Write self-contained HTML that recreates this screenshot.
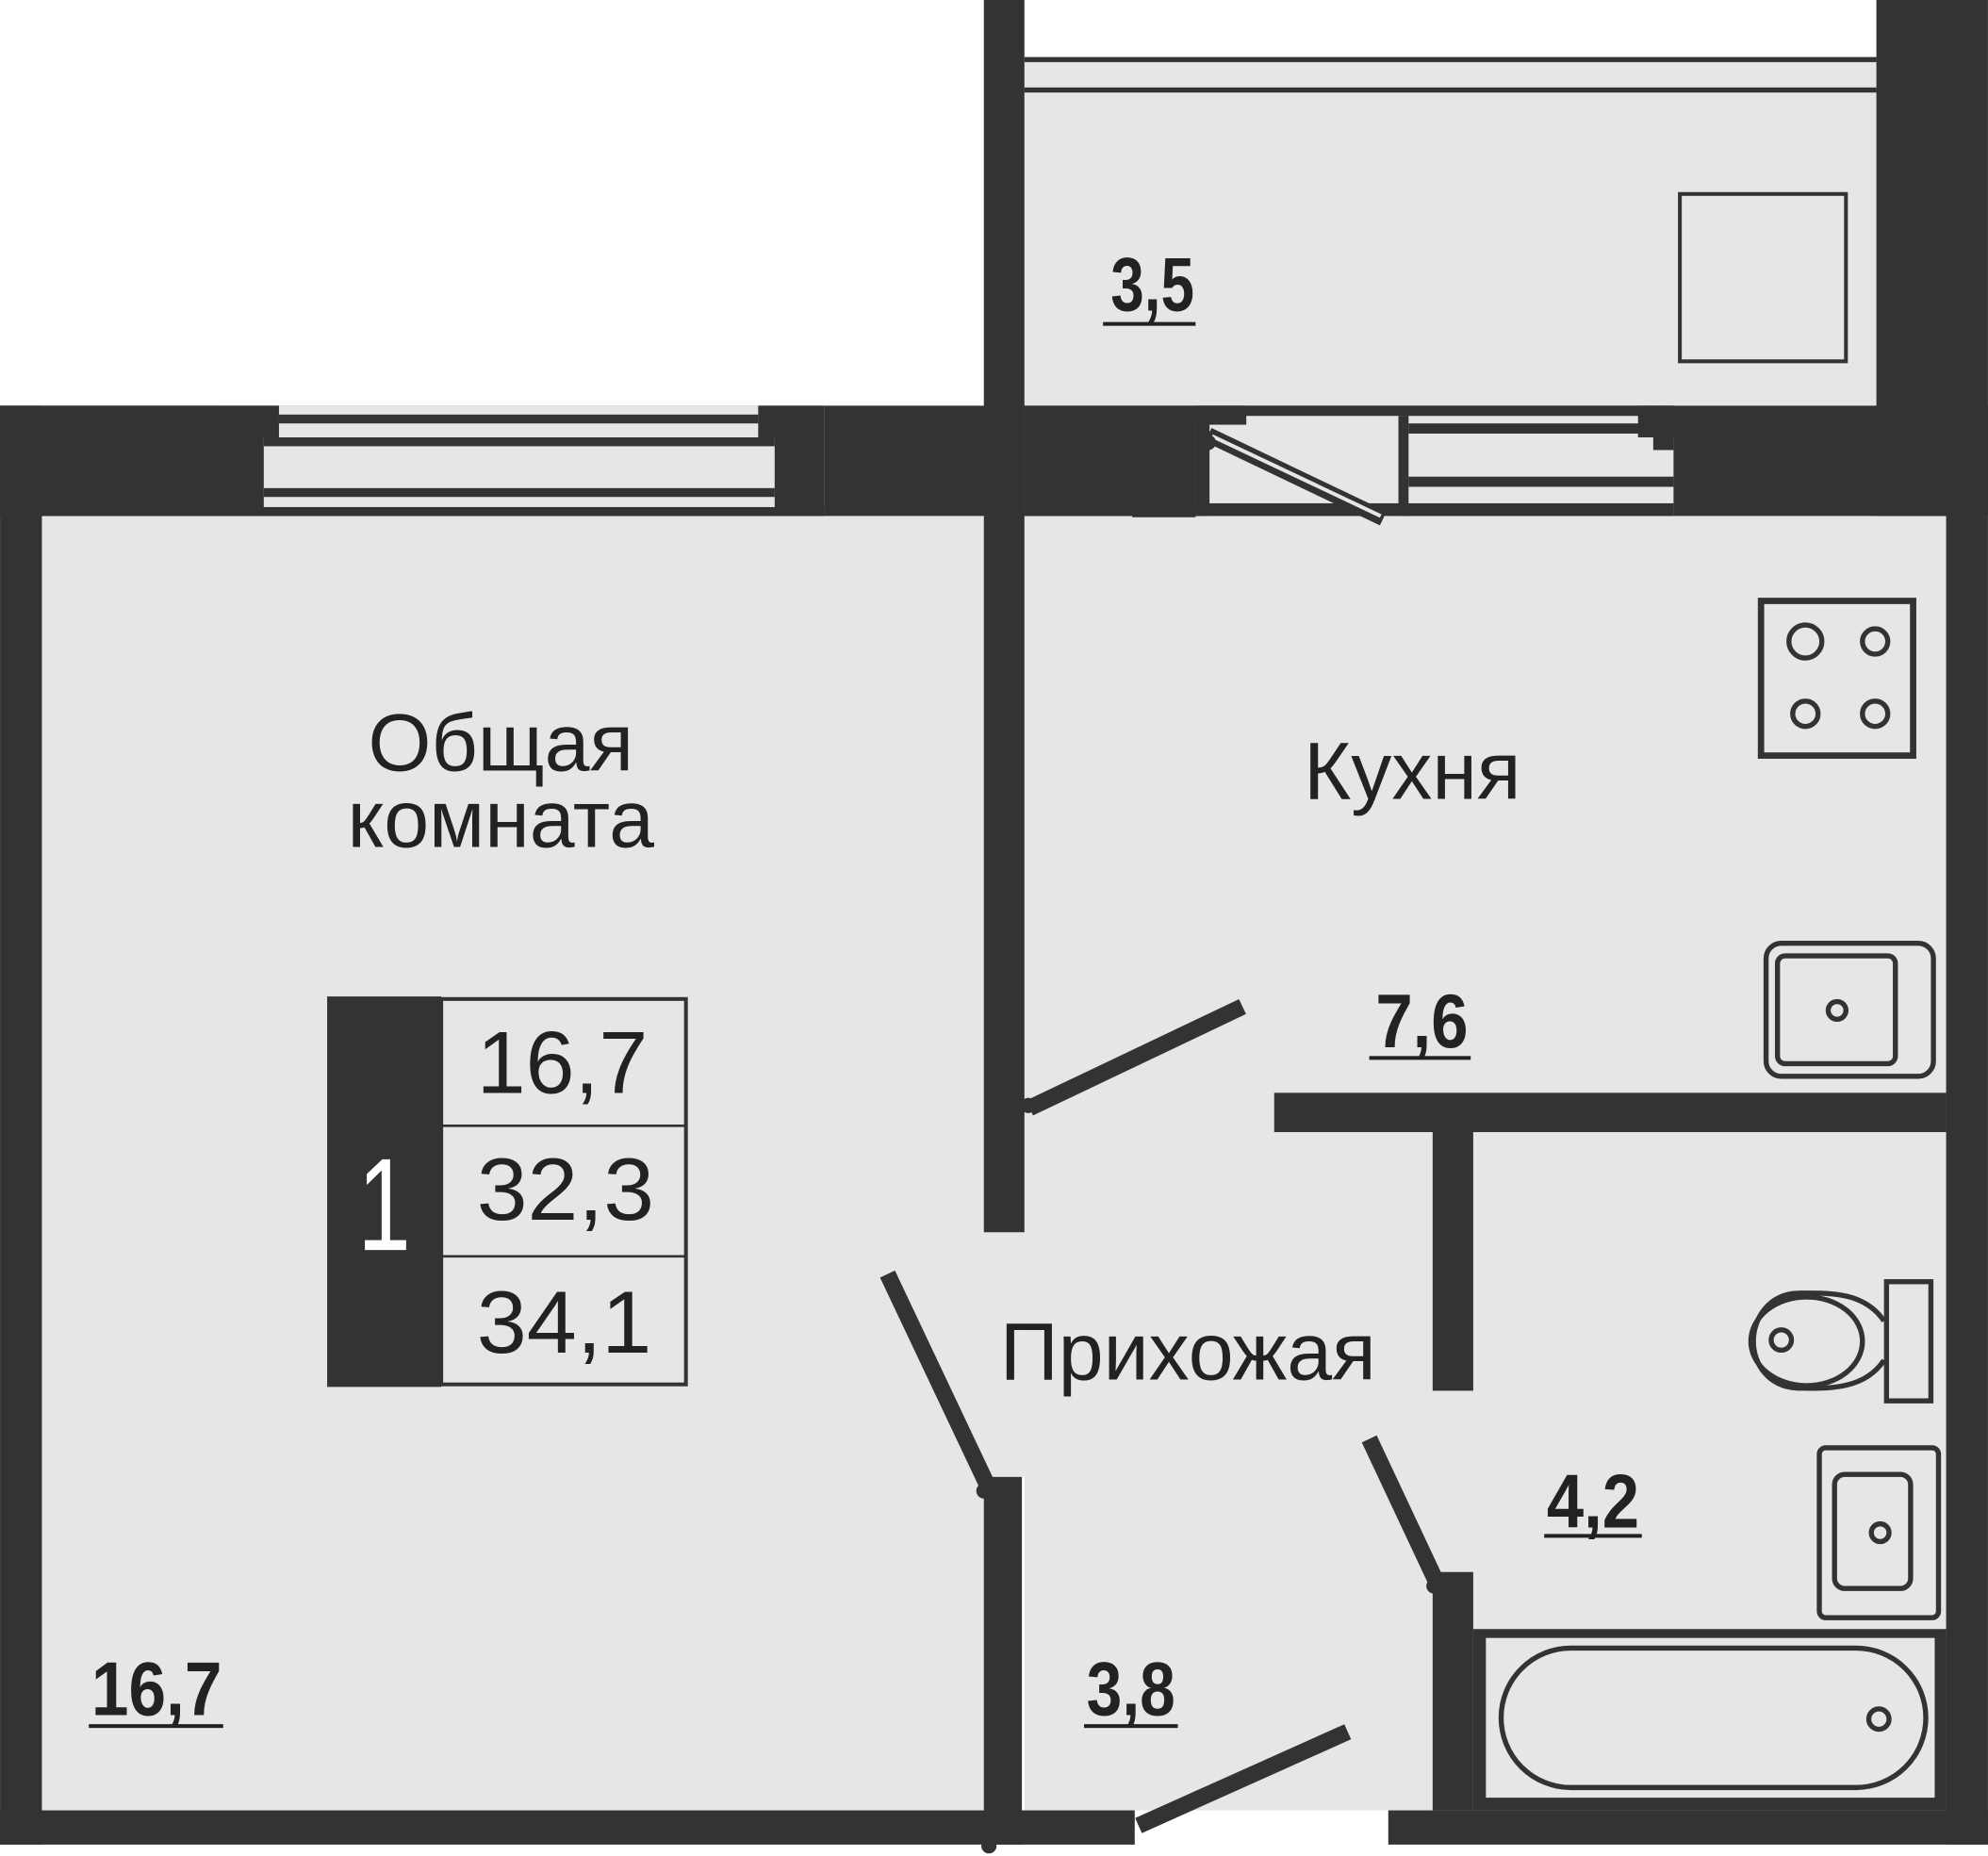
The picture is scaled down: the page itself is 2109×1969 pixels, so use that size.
<!DOCTYPE html>
<html><head><meta charset="utf-8"><style>html,body{margin:0;padding:0;background:#fff}svg{display:block}</style></head><body>
<svg width="2109" height="1969" viewBox="0 0 1568 1464" xmlns="http://www.w3.org/2000/svg" font-family="Liberation Sans, sans-serif">
<!-- floors -->
<rect x="33" y="407" width="743" height="1021" fill="#e6e6e6"/>
<rect x="808" y="407" width="727" height="1021" fill="#e6e6e6"/>
<rect x="776" y="972" width="32" height="193" fill="#e6e6e6"/>
<rect x="808" y="45" width="672" height="275" fill="#e6e6e6"/>
<!-- balcony rail -->
<g fill="#333">
<rect x="808" y="45" width="672" height="4"/>
<rect x="808" y="69" width="672" height="4"/>
</g>
<!-- balcony walls -->
<rect x="776" y="0" width="32" height="407" fill="#333"/>
<rect x="1480" y="0" width="88" height="407" fill="#333"/>
<rect x="1325" y="153" width="131" height="132" fill="none" stroke="#333" stroke-width="3"/>
<!-- top wall left -->
<rect x="0" y="320" width="808" height="87" fill="#333"/>
<rect x="172" y="320" width="478" height="87" fill="#e6e6e6"/>
<rect x="0" y="320" width="172" height="87" fill="#333"/>
<rect x="598" y="320" width="52" height="25" fill="#333"/>
<rect x="172" y="320" width="48" height="25" fill="#333"/>
<rect x="611" y="345" width="39" height="62" fill="#333"/>
<rect x="172" y="345" width="36" height="62" fill="#333"/>
<g fill="#333">
<rect x="220" y="327" width="378" height="7"/>
<rect x="208" y="345" width="403" height="7"/>
<rect x="208" y="385" width="403" height="7"/>
<rect x="208" y="400" width="403" height="7"/>
</g>
<rect x="172" y="400" width="478" height="7" fill="#333"/>
<!-- top wall right -->
<rect x="808" y="320" width="760" height="87" fill="#333"/>
<rect x="943" y="328" width="377" height="79" fill="#e6e6e6"/>
<rect x="808" y="320" width="135" height="87" fill="#333"/>
<rect x="893" y="398" width="50" height="10" fill="#333"/>
<rect x="943" y="320" width="40" height="15" fill="#333"/>
<rect x="1292" y="320" width="28" height="25" fill="#333"/>
<g fill="#333">
<rect x="943" y="397" width="377" height="10"/>
<rect x="943" y="320" width="361" height="8"/>
<rect x="1103" y="328" width="8" height="79"/>
<rect x="1111" y="334" width="193" height="8"/>
<rect x="1111" y="376" width="209" height="8"/>
<rect x="1304" y="320" width="16" height="35"/>
</g>
<rect x="943" y="328" width="11" height="79" fill="#333"/>
<line x1="953" y1="343" x2="1091" y2="409" stroke="#333" stroke-width="12"/>
<line x1="956" y1="344" x2="1089" y2="407" stroke="#e6e6e6" stroke-width="3"/>
<circle cx="953" cy="349" r="6" fill="#333"/>
<!-- outer walls -->
<rect x="0" y="320" width="33" height="1135" fill="#333"/>
<rect x="1535" y="407" width="33" height="1048" fill="#333"/>
<rect x="0" y="1428" width="895" height="27" fill="#333"/>
<rect x="1095" y="1428" width="473" height="27" fill="#333"/>
<!-- partitions -->
<rect x="776" y="407" width="32" height="565" fill="#333"/>
<rect x="776" y="1165" width="30" height="290" fill="#333"/>
<rect x="1005" y="862" width="530" height="31" fill="#333"/>
<rect x="1130" y="893" width="32" height="204" fill="#333"/>
<rect x="1130" y="1240" width="32" height="188" fill="#333"/>
<rect x="1162" y="1285" width="373" height="143" fill="#333"/>
<!-- doors -->
<g stroke="#333" stroke-width="13">
<line x1="812" y1="874" x2="980" y2="794"/>
<line x1="700" y1="1005" x2="779" y2="1172"/>
<line x1="1080" y1="1135" x2="1134" y2="1250"/>
<line x1="898" y1="1440" x2="1063" y2="1366"/>
</g>
<circle cx="811" cy="872" r="6" fill="#333"/>
<circle cx="776" cy="1176" r="6" fill="#333"/>
<circle cx="1131" cy="1251" r="6" fill="#333"/>
<circle cx="780" cy="1456" r="6" fill="#333"/>
<!-- stove -->
<rect x="1389" y="474" width="120" height="122" fill="none" stroke="#333" stroke-width="5"/>
<g fill="none" stroke="#333" stroke-width="4">
<circle cx="1424" cy="506" r="13"/><circle cx="1479" cy="506" r="10"/>
<circle cx="1424" cy="563" r="10"/><circle cx="1479" cy="563" r="10"/>
</g>
<!-- kitchen sink -->
<rect x="1393" y="744" width="132" height="105" rx="12" fill="none" stroke="#333" stroke-width="4"/>
<rect x="1402" y="754" width="93" height="85" rx="6" fill="none" stroke="#333" stroke-width="4"/>
<circle cx="1449" cy="797" r="7" fill="none" stroke="#333" stroke-width="4"/>
<!-- toilet -->
<rect x="1488" y="1011" width="35" height="94" fill="none" stroke="#333" stroke-width="4"/>
<path d="M1486 1042 C1470 1018 1440 1020 1420 1020 C1395 1020 1383 1040 1383 1058 C1383 1076 1395 1095 1420 1095 C1440 1095 1470 1097 1486 1073" fill="none" stroke="#333" stroke-width="4"/>
<ellipse cx="1425" cy="1058" rx="44" ry="35" fill="none" stroke="#333" stroke-width="4"/>
<circle cx="1405" cy="1057" r="8" fill="none" stroke="#333" stroke-width="4"/>
<!-- bath sink -->
<rect x="1435" y="1142" width="94" height="134" rx="5" fill="none" stroke="#333" stroke-width="4"/>
<rect x="1447" y="1163" width="60" height="90" rx="8" fill="none" stroke="#333" stroke-width="4"/>
<circle cx="1483" cy="1209" r="7" fill="none" stroke="#333" stroke-width="4"/>
<!-- bathtub -->
<rect x="1170" y="1290" width="358" height="130" fill="#e6e6e6"/>
<rect x="1170" y="1290" width="358" height="130" fill="none" stroke="#333" stroke-width="4"/>
<rect x="1184" y="1300" width="335" height="110" rx="55" fill="none" stroke="#333" stroke-width="4"/>
<circle cx="1482" cy="1356" r="8" fill="none" stroke="#333" stroke-width="4"/>
<!-- labels -->
<g fill="#222" font-size="64">
<text x="395" y="608" text-anchor="middle">Общая</text>
<text x="395" y="668" text-anchor="middle">комната</text>
<text x="1114" y="630" text-anchor="middle">Кухня</text>
<text x="937" y="1088" text-anchor="middle">Прихожая</text>
</g>
<g fill="#222" font-size="60" font-weight="bold" font-family="Liberation Sans Narrow, Liberation Sans, sans-serif">
<text x="876" y="245" textLength="66" lengthAdjust="spacingAndGlyphs">3,5</text>
<text x="1085" y="826" textLength="73" lengthAdjust="spacingAndGlyphs">7,6</text>
<text x="1220" y="1205" textLength="73" lengthAdjust="spacingAndGlyphs">4,2</text>
<text x="857" y="1353" textLength="70" lengthAdjust="spacingAndGlyphs">3,8</text>
<text x="72" y="1353" textLength="103" lengthAdjust="spacingAndGlyphs">16,7</text>
</g>
<g fill="#222">
<rect x="870" y="254" width="73" height="3"/>
<rect x="1080" y="833" width="80" height="3"/>
<rect x="1218" y="1210" width="77" height="3"/>
<rect x="855" y="1360" width="74" height="3"/>
<rect x="70" y="1360" width="106" height="3"/>
</g>
<!-- info table -->
<rect x="258" y="786" width="90" height="308" fill="#333"/>
<rect x="348" y="788" width="193" height="304" fill="#e6e6e6" stroke="#333" stroke-width="3"/>
<line x1="348" y1="888" x2="541" y2="888" stroke="#333" stroke-width="2"/>
<line x1="348" y1="991" x2="541" y2="991" stroke="#333" stroke-width="2"/>
<text x="303" y="986" fill="#fff" font-size="104" text-anchor="middle" textLength="42" lengthAdjust="spacingAndGlyphs" font-family="Liberation Sans Narrow, Liberation Sans, sans-serif">1</text>
<g fill="#222" font-size="70" font-family="Liberation Sans Narrow, Liberation Sans, sans-serif">
<text x="376" y="862" textLength="135" lengthAdjust="spacingAndGlyphs">16,7</text>
<text x="376" y="962" textLength="140" lengthAdjust="spacingAndGlyphs">32,3</text>
<text x="376" y="1067" textLength="138" lengthAdjust="spacingAndGlyphs">34,1</text>
</g>
</svg>
</body></html>
